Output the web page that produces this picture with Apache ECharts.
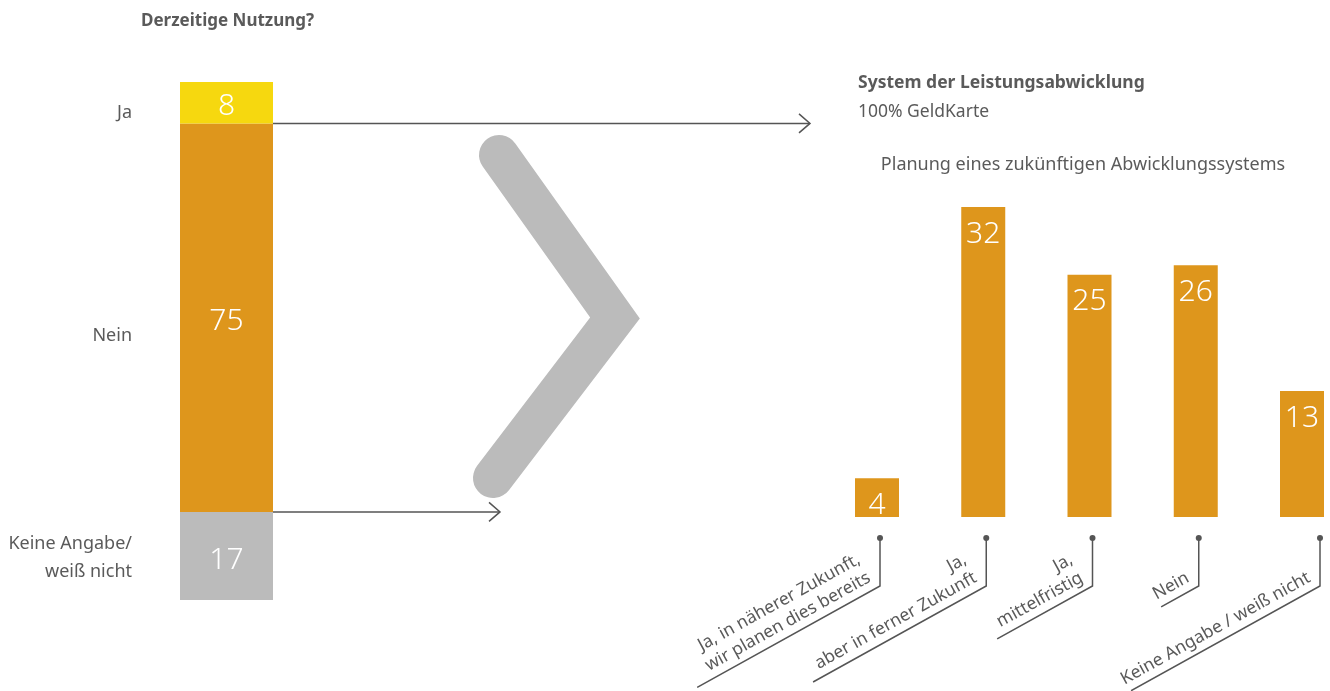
<!DOCTYPE html>
<html>
<head>
<meta charset="utf-8">
<script src="https://cdn.jsdelivr.net/npm/echarts@6/dist/echarts.min.js"></script>
<style>
  html, body { margin: 0; padding: 0; background: #ffffff; }
  #chart { width: 1330px; height: 691px; }
</style>
</head>
<body>
<div id="chart"></div>
<script>
// Current use (stacked, bottom to top)
const usageNames = ['Keine Angabe/\nweiß nicht', 'Nein', 'Ja'];
const usageValues = [17, 75, 8];

// Planning of a future settlement system
const planCategories = [
  'Ja, in näherer Zukunft,\nwir planen dies bereits',
  'Ja,\naber in ferner Zukunft',
  'Ja,\nmittelfristig',
  'Nein',
  'Keine Angabe / weiß nicht'
];
const planValues = [4, 32, 25, 26, 13];

const FONT = '"Noto Sans", "Open Sans", sans-serif';
const TEXT = '#5a5a5a';
const LINE = '#555555';
const ORANGE = '#de961c';
const YELLOW = '#f6d80f';
const GREY = '#bbbbbb';
const usageColors = [GREY, ORANGE, YELLOW];

const chart = echarts.init(document.getElementById('chart'), null, { renderer: 'canvas' });

const usageSeries = usageValues.map((v, i) => ({
  type: 'bar',
  name: usageNames[i],
  stack: 'usage',
  xAxisIndex: 0,
  yAxisIndex: 0,
  barWidth: '100%',
  data: [v],
  itemStyle: { color: usageColors[i] },
  label: {
    show: true, position: 'inside', offset: [0, 4], color: '#ffffff',
    fontSize: 30, fontFamily: FONT, fontWeight: 300
  },
  silent: true
}));

chart.setOption({
  animation: false,
  textStyle: { fontFamily: FONT },
  grid: [
    { left: 180, top: 82, width: 93, height: 518 },
    // category centres sit on the grid edges (boundaryGap: false)
    { left: 877, top: 207, width: 425, height: 310 }
  ],
  xAxis: [
    { type: 'category', gridIndex: 0, data: ['Nutzung'], show: false },
    { type: 'category', gridIndex: 1, data: planCategories, show: false, boundaryGap: false }
  ],
  yAxis: [
    { type: 'value', gridIndex: 0, min: 0, max: 100, show: false },
    { type: 'value', gridIndex: 1, min: 0, max: 32, show: false }
  ],
  series: usageSeries.concat([{
    type: 'bar',
    xAxisIndex: 1,
    yAxisIndex: 1,
    barWidth: 44,
    clip: false,
    data: planValues,
    itemStyle: { color: ORANGE },
    label: {
      show: true, position: 'insideTop', distance: 12, color: '#ffffff',
      fontSize: 30, fontFamily: FONT, fontWeight: 300
    },
    silent: true
  }])
});

function text(x, y, str, opts) {
  return {
    type: 'text', x: x, y: y, silent: true,
    style: Object.assign({
      text: str, fill: TEXT, fontFamily: FONT, fontSize: 18,
      align: 'left', verticalAlign: 'middle', lineHeight: 28
    }, opts || {})
  };
}

function arrow(x1, y, x2) {
  return [
    { type: 'line', silent: true, shape: { x1: x1, y1: y, x2: x2, y2: y },
      style: { stroke: LINE, lineWidth: 1.5 } },
    { type: 'polyline', silent: true,
      shape: { points: [[x2 - 11, y - 9.5], [x2, y], [x2 - 11, y + 9.5]] },
      style: { stroke: LINE, lineWidth: 1.5, fill: null } }
  ];
}

function buildGraphics() {
  const g = [];

  // headings
  g.push(text(141, 21, 'Derzeitige Nutzung?', { fontWeight: 'bold', fontSize: 17 }));
  g.push(text(858, 83, 'System der Leistungsabwicklung', { fontWeight: 'bold', fontSize: 17.5 }));
  g.push(text(858, 112, '100% GeldKarte', { fontSize: 17.5 }));
  g.push(text(1083, 165, 'Planung eines zukünftigen Abwicklungssystems', { align: 'center', fontSize: 18 }));

  // left category names
  g.push(text(132, 113, 'Ja', { align: 'right' }));
  g.push(text(132, 336, 'Nein', { align: 'right' }));
  g.push(text(132, 558, 'Keine Angabe/\nweiß nicht', { align: 'right' }));

  // arrows from the segment boundaries
  const cx = chart.convertToPixel({ xAxisIndex: 0 }, 0);
  const barRight = cx + 46.5;
  const yTop = chart.convertToPixel({ yAxisIndex: 0 }, usageValues[0] + usageValues[1]);
  const yBottom = chart.convertToPixel({ yAxisIndex: 0 }, usageValues[0]);
  arrow(barRight, yTop, 810).forEach(e => g.push(e));
  arrow(barRight, yBottom, 500).forEach(e => g.push(e));

  // large chevron
  g.push({
    type: 'polyline', silent: true,
    shape: { points: [[499, 155], [615, 318], [493, 478]] },
    style: { stroke: GREY, lineWidth: 40, lineCap: 'round', lineJoin: 'miter', fill: null }
  });

  // category connectors below the right bars
  const tickShift = [3, 3, 3, 3, 18];
  const diagLen = [209, 198, 109, 43, 216];
  const ang = 29 * Math.PI / 180;
  const baseY = chart.convertToPixel({ yAxisIndex: 1 }, 0);
  planCategories.forEach((name, i) => {
    const x = chart.convertToPixel({ xAxisIndex: 1 }, i) + tickShift[i];
    const yDot = baseY + 21;
    const yCorner = yDot + 48;
    const ex = x - diagLen[i] * Math.cos(ang);
    const ey = yCorner + diagLen[i] * Math.sin(ang);
    g.push({ type: 'circle', silent: true, shape: { cx: x, cy: yDot, r: 3 }, style: { fill: LINE } });
    g.push({ type: 'polyline', silent: true,
      shape: { points: [[x, yDot], [x, yCorner], [ex, ey]] },
      style: { stroke: LINE, lineWidth: 1.5, fill: null } });
    // label sits just above the diagonal, ending at the corner
    const d = 5, gap = 3;
    const tx = x - d * Math.cos(ang) - gap * Math.sin(ang);
    const ty = yCorner + d * Math.sin(ang) - gap * Math.cos(ang);
    g.push({
      type: 'text', silent: true, x: tx, y: ty, rotation: ang,
      style: { text: name, fill: TEXT, fontFamily: FONT, fontSize: 17.5,
        align: 'right', verticalAlign: 'bottom', lineHeight: 21 }
    });
  });
  return g;
}

chart.setOption({ graphic: buildGraphics() });
</script>
</body>
</html>
